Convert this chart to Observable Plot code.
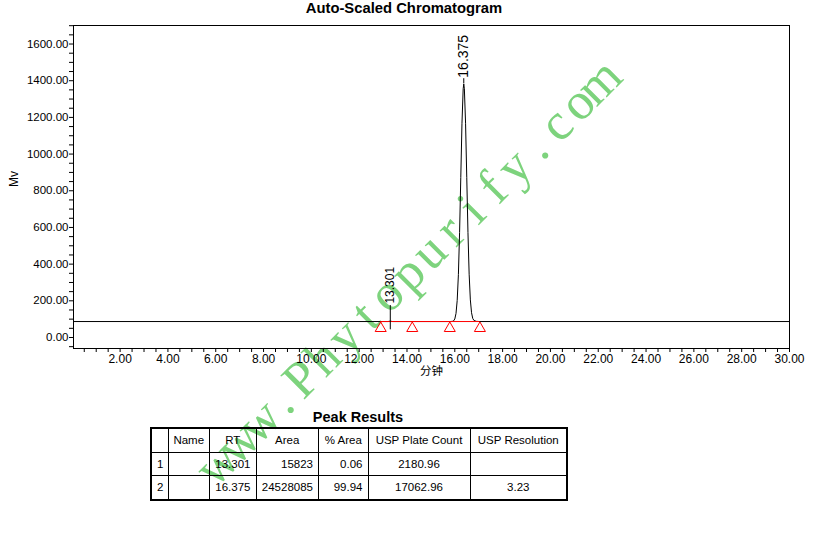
<!DOCTYPE html>
<html>
<head>
<meta charset="utf-8">
<script src="https://cdn.jsdelivr.net/npm/d3@7"></script>
<script src="https://cdn.jsdelivr.net/npm/@observablehq/plot@0.6"></script>
<style>
  body { margin: 0; background: #fff; font-family: "Liberation Sans", Arial, sans-serif; }
  #page { position: relative; width: 816px; height: 539px; overflow: hidden; background: #fff; }
  #wm { position: absolute; left: 0; top: 0; z-index: 0; pointer-events: none; }
  #chart { position: absolute; left: 0; top: 0; z-index: 1; }
  #title { position: absolute; left: 0; top: 0; width: 808px; text-align: center; font-weight: bold;
           font-size: 14.8px; line-height: 17px; z-index: 2; color: #000; }
  #ptitle { position: absolute; left: 258px; top: 409px; width: 200px; text-align: center; font-weight: bold;
            font-size: 14.5px; line-height: 17px; z-index: 2; color: #000; }
  #tbl { position: absolute; left: 150px; top: 427px; z-index: 2; }
  #tbl table { border-collapse: collapse; table-layout: fixed; width: 416px; border: 2px solid #000;
               font-size: 11.5px; color: #000; }
  #tbl td { border: 1px solid #000; height: 22.5px; padding: 0 5px; white-space: nowrap; overflow: visible; }
  #tbl td.c { text-align: center; padding: 0; }
  #tbl td.r { text-align: right; }
  #tbl td.l { text-align: left; }
</style>
</head>
<body>
<div id="page">
  <svg id="wm" width="816" height="539"></svg>
  <div id="chart"></div>
  <div id="title">Auto-Scaled Chromatogram</div>
  <div id="ptitle">Peak Results</div>
  <div id="tbl"></div>
</div>
<script>
// ---- chromatogram trace (minutes, mV) ----
const traceTime = [0.05, 12.90, 13.20, 13.30, 13.40, 15.80, 15.90, 15.95, 16.00, 16.05, 16.10, 16.15, 16.20,
                   16.25, 16.30, 16.35, 16.375, 16.40, 16.45, 16.50, 16.55, 16.60, 16.65, 16.70, 16.75,
                   16.80, 16.90, 17.05, 30.00];
const traceMv   = [87, 87, 87, 89, 87, 87, 88, 91, 101, 131, 202, 343, 573,
                   873, 1168, 1356, 1382, 1356, 1168, 873, 573, 345, 205, 135, 104,
                   93, 88, 87, 87];
// ---- peak apex markers and labels ----
const peakRT       = [13.301, 16.375];
const peakLabel    = ["13.301", "16.375"];
const peakMarkLow  = [42, 1382];
const peakMarkHigh = [174, 1411];
// ---- integration events (red triangles) and integration baseline ----
const eventTime = [12.90, 14.22, 15.79, 17.05];
const eventMv   = [50, 50, 50, 50];
const baselineMv = 87;
// ---- axis tick labels ----
const xTickLabels = [2, 4, 6, 8, 10, 12, 14, 16, 18, 20, 22, 24, 26, 28, 30];
const yTickLabels = [0, 200, 400, 600, 800, 1000, 1200, 1400, 1600];
// ---- peak results table ----
const tableHeader     = ["", "Name", "RT", "Area", "% Area", "USP Plate Count", "USP Resolution"];
const tablePeakNo     = ["1", "2"];
const tableName       = ["", ""];
const tableRT         = ["13.301", "16.375"];
const tableArea       = ["15823", "24528085"];
const tablePctArea    = ["0.06", "99.94"];
const tablePlateCount = ["2180.96", "17062.96"];
const tableResolution = ["", "3.23"];
// ---- watermark text ----
const watermarkText = "www.Phytopurify.com";

const trace = traceTime.map((t, i) => ({t, mv: traceMv[i]}));
const peaks = peakRT.map((rt, i) => ({rt, label: peakLabel[i], low: peakMarkLow[i], high: peakMarkHigh[i]}));
const events = eventTime.map((t, i) => ({t, mv: eventMv[i]}));

const xMinor = d3.range(0.5, 30.001, 0.5);
const yMinor = d3.range(-50, 1701, 50);
const f2 = d3.format(".2f");

const chart = Plot.plot({
  width: 816,
  height: 390,
  marginLeft: 73,
  marginRight: 27,
  marginTop: 25,
  marginBottom: 42,
  style: {background: "transparent", fontFamily: "'Liberation Sans', Arial, sans-serif", color: "#000", overflow: "visible"},
  x: {domain: [0.05, 30]},
  y: {domain: [-60, 1701]},
  marks: [
    Plot.axisX({ticks: xMinor, tickSize: 4, tickPadding: 2, fontSize: 12, label: null,
                tickFormat: d => xTickLabels.includes(d) ? f2(d) : ""}),
    Plot.axisY({ticks: yMinor, tickSize: 4, tickPadding: 1, fontSize: 11.5, label: null,
                tickFormat: d => yTickLabels.includes(d) ? f2(d) : ""}),
    Plot.frame({stroke: "#000"}),
    Plot.line(trace, {x: "t", y: "mv", stroke: "#000", strokeWidth: 1}),
    Plot.ruleY([baselineMv], {x1: eventTime[0], x2: eventTime[eventTime.length - 1], stroke: "#ff0000", strokeWidth: 1}),
    Plot.dot(events, {x: "t", y: "mv", symbol: "triangle", r: 4.1, stroke: "#ff0000", fill: "none", strokeWidth: 1}),
    Plot.ruleX(peaks, {x: "rt", y1: "low", y2: "high", stroke: "#000", strokeWidth: 1}),
    Plot.text(peaks.filter(d => d.rt < 15), {x: "rt", y: "high", text: "label", rotate: -90, textAnchor: "start",
              dy: -2, fontSize: 12, fill: "#000"}),
    Plot.text(peaks.filter(d => d.rt >= 15), {x: "rt", y: "high", text: "label", rotate: -90, textAnchor: "start",
              dy: -1, fontSize: 14, fill: "#000"}),
    Plot.text(["Mv"], {frameAnchor: "left", dx: -59, rotate: -90, text: d => d, fontSize: 12, fill: "#000"}),
    Plot.text(["分钟"], {frameAnchor: "bottom", dy: 26, text: d => d, fontSize: 11.5, fill: "#000",
              fontFamily: "'Noto Sans CJK SC', sans-serif"})
  ]
});
document.getElementById("chart").appendChild(chart);

// watermark: thin serif glyphs on an even pitch, diagonal
const pitch = 30;
const wm = d3.select("#wm");
wm.append("text")
  .attr("transform", "translate(218,486) rotate(-45)")
  .attr("x", Array.from(watermarkText, (c, i) => (i + 0.5) * pitch).join(" "))
  .attr("y", 0)
  .attr("text-anchor", "middle")
  .attr("font-family", "'Liberation Serif', 'DejaVu Serif', serif")
  .attr("font-size", 52)
  .attr("fill", "#7dd37d")
  .text(watermarkText);

// table
const rows = [tableHeader];
tablePeakNo.forEach((n, i) => rows.push([n, tableName[i], tableRT[i], tableArea[i], tablePctArea[i], tablePlateCount[i], tableResolution[i]]));
const widths = [17, 41.5, 46.5, 62.5, 49.5, 102, 97];
const bodyAlign = ["l", "c", "r", "r", "r", "c", "c"];
const table = d3.select("#tbl").append("table");
const cg = table.append("colgroup");
widths.forEach(w => cg.append("col").style("width", w + "px"));
rows.forEach((row, ri) => {
  const tr = table.append("tr");
  row.forEach((cell, ci) => {
    tr.append("td").attr("class", ri === 0 ? (ci === 0 ? "l" : "c") : bodyAlign[ci]).text(cell);
  });
});
</script>
</body>
</html>
